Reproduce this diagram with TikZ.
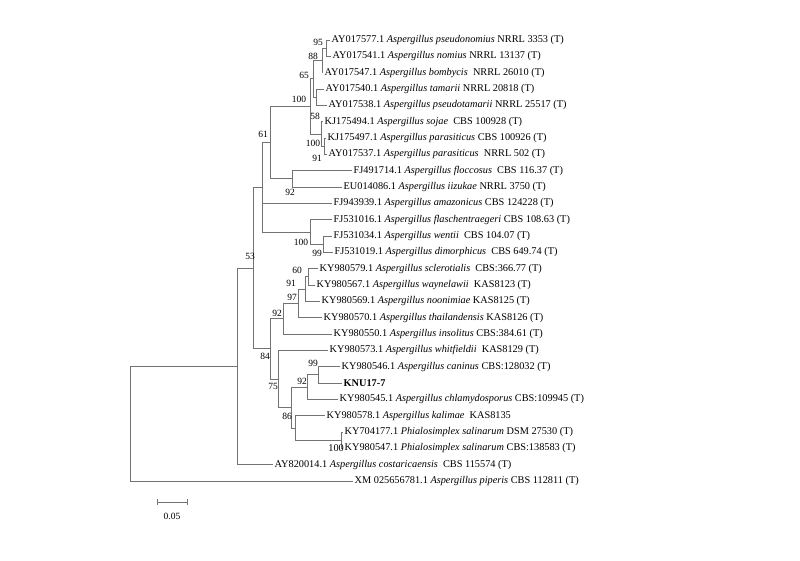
\documentclass[tikz,border=0pt]{standalone}
\usepackage{fontspec}
\setmainfont{Liberation Serif}
\begin{document}
\begin{tikzpicture}[x=1pt,y=-1pt,
  br/.style={draw=black!55,line width=0.8pt},
  lf/.style={anchor=west,inner sep=1.5pt,font=\fontsize{10.3}{12}\selectfont},
  bs/.style={inner sep=0pt,font=\fontsize{9.5}{11}\selectfont}]
\useasboundingbox (0,0) rectangle (800,560);
% leaves
\node[lf] (l1) at (330,40) {AY017577.1 \textit{Aspergillus pseudonomius} NRRL 3353 (T)};
\node[lf] (l2) at (331,56.3) {AY017541.1 \textit{Aspergillus nomius} NRRL 13137 (T)};
\node[lf] (l3) at (323,72.7) {AY017547.1 \textit{Aspergillus bombycis}\ \ NRRL 26010 (T)};
\node[lf] (l4) at (324,89) {AY017540.1 \textit{Aspergillus tamarii} NRRL 20818 (T)};
\node[lf] (l5) at (327,105.3) {AY017538.1 \textit{Aspergillus pseudotamarii} NRRL 25517 (T)};
\node[lf] (l6) at (323,121.7) {KJ175494.1 \textit{Aspergillus sojae}\ \ CBS 100928 (T)};
\node[lf] (l7) at (326,138) {KJ175497.1 \textit{Aspergillus parasiticus} CBS 100926 (T)};
\node[lf] (l8) at (327,154.3) {AY017537.1 \textit{Aspergillus parasiticus}\ \ NRRL 502 (T)};
\node[lf] (l9) at (352,170.6) {FJ491714.1 \textit{Aspergillus floccosus}\ \ CBS 116.37 (T)};
\node[lf] (l10) at (342,187) {EU014086.1 \textit{Aspergillus iizukae} NRRL 3750 (T)};
\node[lf] (l11) at (332,203.3) {FJ943939.1 \textit{Aspergillus amazonicus} CBS 124228 (T)};
\node[lf] (l12) at (332,219.6) {FJ531016.1 \textit{Aspergillus flaschentraegeri} CBS 108.63 (T)};
\node[lf] (l13) at (332,236) {FJ531034.1 \textit{Aspergillus wentii}\ \ CBS 104.07 (T)};
\node[lf] (l14) at (333,252.3) {FJ531019.1 \textit{Aspergillus dimorphicus}\ \ CBS 649.74 (T)};
\node[lf] (l15) at (318,268.6) {KY980579.1 \textit{Aspergillus sclerotialis}\ \ CBS:366.77 (T)};
\node[lf] (l16) at (315,285) {KY980567.1 \textit{Aspergillus waynelawii}\ \ KAS8123 (T)};
\node[lf] (l17) at (320,301.3) {KY980569.1 \textit{Aspergillus noonimiae} KAS8125 (T)};
\node[lf] (l18) at (322,317.6) {KY980570.1 \textit{Aspergillus thailandensis} KAS8126 (T)};
\node[lf] (l19) at (332,334) {KY980550.1 \textit{Aspergillus insolitus} CBS:384.61 (T)};
\node[lf] (l20) at (328,350.3) {KY980573.1 \textit{Aspergillus whitfieldii}\ \ KAS8129 (T)};
\node[lf] (l21) at (340,366.6) {KY980546.1 \textit{Aspergillus caninus} CBS:128032 (T)};
\node[lf] (l22) at (342,383) {\textbf{KNU17-7}};
\node[lf] (l23) at (338,399.3) {KY980545.1 \textit{Aspergillus chlamydosporus} CBS:109945 (T)};
\node[lf] (l24) at (325,415.6) {KY980578.1 \textit{Aspergillus kalimae}\ \ KAS8135};
\node[lf] (l25) at (343,432) {KY704177.1 \textit{Phialosimplex salinarum} DSM 27530 (T)};
\node[lf] (l26) at (343,448.3) {KY980547.1 \textit{Phialosimplex salinarum} CBS:138583 (T)};
\node[lf] (l27) at (273,464.6) {AY820014.1 \textit{Aspergillus costaricaensis}\ \ CBS 115574 (T)};
\node[lf] (l28) at (353,481) {XM 025656781.1 \textit{Aspergillus piperis} CBS 112811 (T)};
% internal nodes
\coordinate (n95) at (326,48.2);
\coordinate (n88) at (322,60.4);
\coordinate (n45) at (316,97.2);
\coordinate (n65) at (313,78.8);
\coordinate (n100p) at (324,146.2);
\coordinate (n58) at (321,134);
\coordinate (n100a) at (310,106.4);
\coordinate (n92u) at (292,178.8);
\coordinate (n61) at (270,142.6);
\coordinate (n99u) at (323,244.2);
\coordinate (n100c) at (310,231.9);
\coordinate (nX) at (262,187.2);
\coordinate (n60) at (308,276.8);
\coordinate (n91) at (305,289);
\coordinate (n97) at (298,303.3);
\coordinate (n92a) at (283,318.7);
\coordinate (n99b) at (318,374.8);
\coordinate (n92b) at (307,387);
\coordinate (n100b) at (341,440.2);
\coordinate (n86i) at (295,427.9);
\coordinate (n86) at (291,407.5);
\coordinate (n75) at (278,378.9);
\coordinate (n84) at (270,348.8);
\coordinate (n53) at (253,268);
\coordinate (n237) at (237,366.3);
\coordinate (root) at (130,423.7);
% branches
\path[br] (n95) |- (l1.west) (n95) |- (l2.west)
  (n88) |- (n95) (n88) |- (l3.west)
  (n45) |- (l4.west) (n45) |- (l5.west)
  (n65) |- (n88) (n65) |- (n45)
  (n100p) |- (l7.west) (n100p) |- (l8.west)
  (n58) |- (l6.west) (n58) |- (n100p)
  (n100a) |- (n65) (n100a) |- (n58)
  (n92u) |- (l9.west) (n92u) |- (l10.west)
  (n61) |- (n100a) (n61) |- (n92u)
  (n99u) |- (l13.west) (n99u) |- (l14.west)
  (n100c) |- (l12.west) (n100c) |- (n99u)
  (nX) |- (n61) (nX) |- (l11.west) (nX) |- (n100c)
  (n60) |- (l15.west) (n60) |- (l16.west)
  (n91) |- (n60) (n91) |- (l17.west)
  (n97) |- (n91) (n97) |- (l18.west)
  (n92a) |- (n97) (n92a) |- (l19.west)
  (n99b) |- (l21.west) (n99b) |- (l22.west)
  (n92b) |- (n99b) (n92b) |- (l23.west)
  (n100b) |- (l25.west) (n100b) |- (l26.west)
  (n86i) |- (l24.west) (n86i) |- (n100b)
  (n86) |- (n92b) (n86) |- (n86i)
  (n75) |- (l20.west) (n75) |- (n86)
  (n84) |- (n92a) (n84) |- (n75)
  (n53) |- (nX) (n53) |- (n84)
  (n237) |- (n53) (n237) |- (l27.west)
  (root) |- (n237) (root) |- (l28.west);
% bootstrap values
\node[bs] (b1) at (318,42) {95};
\node[bs] (b2) at (313,56) {88};
\node[bs] (b3) at (304,75) {65};
\node[bs] (b4) at (299,99) {100};
\node[bs] (b5) at (315,116) {58};
\node[bs] (b6) at (313,143) {100};
\node[bs] (b7) at (317,158) {91};
\node[bs] (b8) at (290,192) {92};
\node[bs] (b9) at (263,134) {61};
\node[bs] (b10) at (301,242) {100};
\node[bs] (b11) at (317,253) {99};
\node[bs] (b12) at (250,256) {53};
\node[bs] (b13) at (297,270) {60};
\node[bs] (b14) at (291,283) {91};
\node[bs] (b15) at (292,297) {97};
\node[bs] (b16) at (277,313) {92};
\node[bs] (b17) at (265,356) {84};
\node[bs] (b18) at (313,363) {99};
\node[bs] (b19) at (302,381) {92};
\node[bs] (b20) at (273,386) {75};
\node[bs] (b21) at (287,416) {86};
\node[bs,anchor=east] (b22) at (344,448.3) {\fontsize{10.3}{12}\selectfont 100};
% scale bar
\coordinate (s1) at (157,502);
\coordinate (s2) at (187,502);
\draw[br,line width=0.7pt] (s1) -- (s2) ([yshift=3pt]s1) -- ([yshift=-3pt]s1) ([yshift=3pt]s2) -- ([yshift=-3pt]s2);
\node[bs] (sc) at (172,516) {0.05};
\end{tikzpicture}
\end{document}
